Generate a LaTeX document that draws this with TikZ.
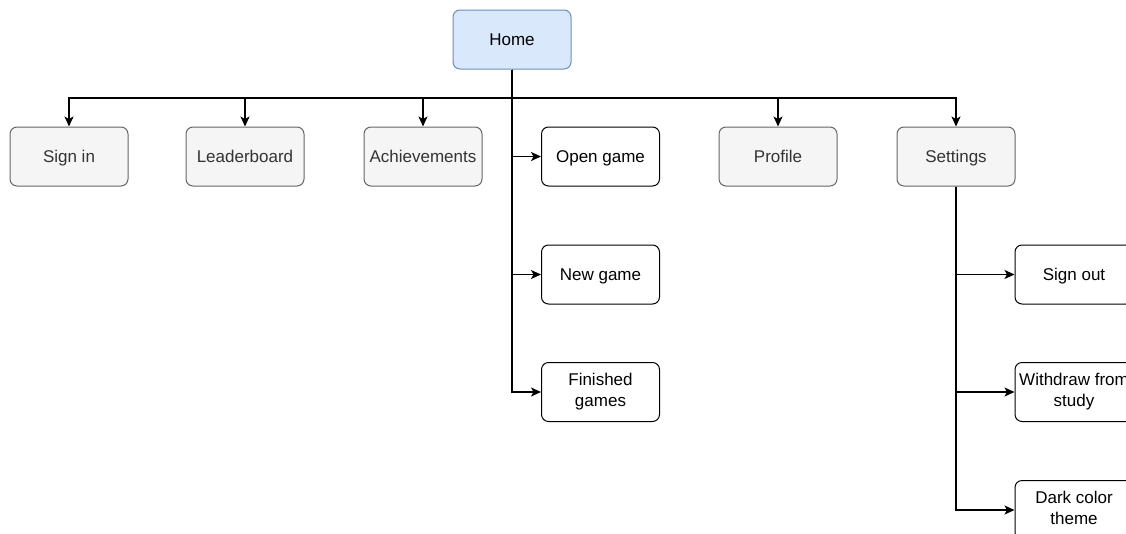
\documentclass[tikz,border=0pt]{standalone}
\usepackage{fontspec}
\setmainfont{Liberation Sans}
\usetikzlibrary{arrows.meta}
\definecolor{bluefill}{HTML}{DAE8FC}
\definecolor{bluedraw}{HTML}{6C8EBF}
\definecolor{grayfill}{HTML}{F5F5F5}
\definecolor{graydraw}{HTML}{666666}
\definecolor{graytext}{HTML}{333333}
\newcommand{\boxstrut}{\rule[-4.5pt]{0pt}{21pt}}
\begin{document}
\begin{tikzpicture}[x=1pt,y=-1pt,
  box/.style={rectangle,rounded corners=7pt,minimum width=118pt,minimum height=59pt,
    line width=1pt,align=center,inner sep=1pt,font=\fontsize{17}{21}\selectfont,
    execute at begin node={\boxstrut}},
  homebox/.style={box,draw=bluedraw,fill=bluefill,text=black},
  graybox/.style={box,draw=graydraw,fill=grayfill,text=graytext},
  whitebox/.style={box,draw=black,fill=white,text=black},
  arr/.style={draw=black,line width=1.3pt,-{Stealth[length=10pt,width=9pt,inset=2.5pt]}}]
\useasboundingbox (0,0) rectangle (1126,533);
\clip (0,0) rectangle (1126,533);
\fill[white] (0,0) rectangle (1126,533);

\node[homebox] (home) at (512,39.5) {Home};

\node[graybox] (signin) at (69,156.5) {Sign in};
\node[graybox] (leader) at (245,156.5) {Leaderboard};
\node[graybox] (achieve) at (423,156.5) {Achievements};
\node[whitebox] (open) at (600.5,156.5) {Open game};
\node[graybox] (profile) at (778,156.5) {Profile};
\node[graybox] (settings) at (956,156.5) {Settings};

\node[whitebox] (new) at (600.5,274.5) {New game};
\node[whitebox] (finished) at (600.5,392) {Finished\\games};

\node[whitebox] (signout) at (1074,274.5) {Sign out};
\node[whitebox] (withdraw) at (1074,392) {Withdraw from\\study};
\node[whitebox] (dark) at (1074,510) {Dark color\\theme};

\coordinate (bus) at (512,98);

\draw[arr] (home.south) -- (bus) -| (signin.north);
\draw[arr] (home.south) -- (bus) -| (leader.north);
\draw[arr] (home.south) -- (bus) -| (achieve.north);
\draw[arr] (home.south) -- (bus) -| (profile.north);
\draw[arr] (home.south) -- (bus) -| (settings.north);
\draw[arr] (home.south) |- (open.west);
\draw[arr] (home.south) |- (new.west);
\draw[arr] (home.south) |- (finished.west);

\draw[arr] (settings.south) |- (signout.west);
\draw[arr] (settings.south) |- (withdraw.west);
\draw[arr] (settings.south) |- (dark.west);
\end{tikzpicture}
\end{document}
